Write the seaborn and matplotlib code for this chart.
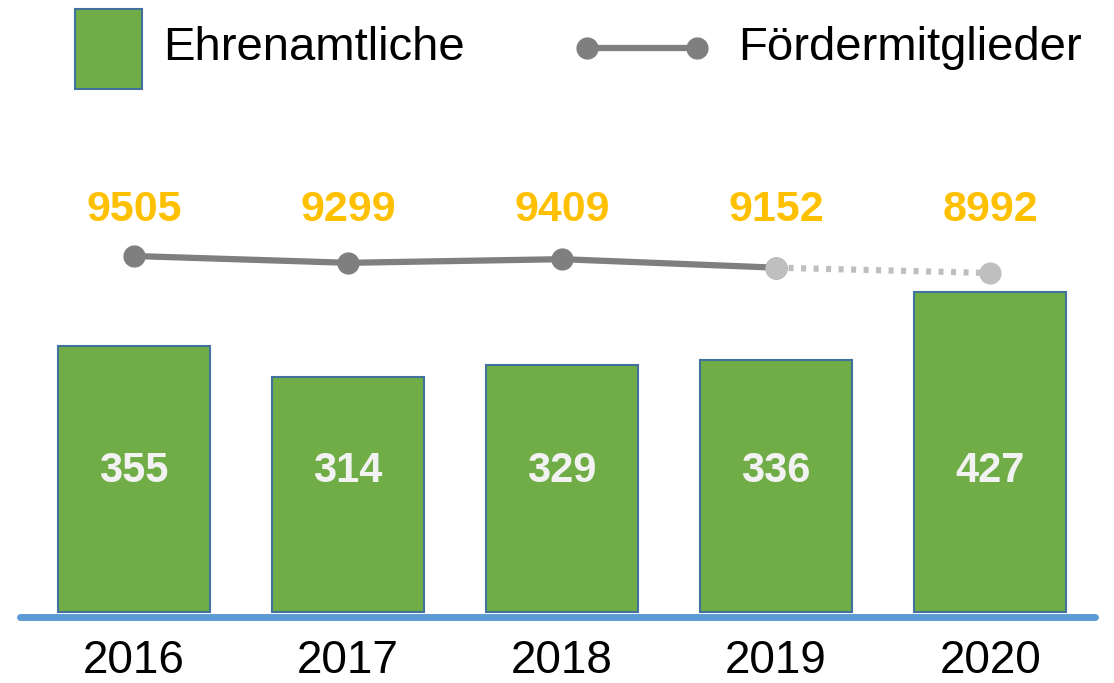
import matplotlib
matplotlib.use("Agg")
import matplotlib.pyplot as plt
import matplotlib.transforms as mtransforms
from matplotlib.patches import Rectangle
from matplotlib.lines import Line2D
import numpy as np
import pandas as pd
import seaborn as sns

years = ["2016", "2017", "2018", "2019", "2020"]
ehrenamtliche = [355, 314, 329, 336, 427]
foerdermitglieder = [9505, 9299, 9409, 9152, 8992]

GREEN = "#70ad47"
EDGE = "#41719c"
GOLD = "#ffc000"
DARKGRAY = "#7f7f7f"
LIGHTGRAY = "#bfbfbf"
BLUE = "#5b9bd5"

sns.set_theme(style="white")
plt.rcParams["font.family"] = ["Liberation Sans", "DejaVu Sans"]

W, H = 1114, 683
fig = plt.figure(figsize=(W / 100, H / 100), dpi=100)
ax_left, ax_right, ax_top, ax_bot = 20, 1095, 100, 625
ax = fig.add_axes([ax_left / W, (H - ax_bot) / H, (ax_right - ax_left) / W, (ax_bot - ax_top) / H])

df = pd.DataFrame({"Jahr": years, "Ehrenamtliche": ehrenamtliche, "Foerder": foerdermitglieder})
df["pos"] = np.arange(len(years))

sns.barplot(data=df, x="Jahr", y="Ehrenamtliche", ax=ax, color=GREEN, width=0.71,
            edgecolor=EDGE, linewidth=1.5, saturation=1, zorder=3)
ax.set_xlim(-0.533, 4.49)
ax.set_ylim(-17.3, 682.7)
for s in ax.spines.values():
    s.set_visible(False)
ax.set_yticks([])
ax.set_xlabel("")
ax.set_ylabel("")
ax.tick_params(axis="x", length=0, pad=10, labelsize=33, labelcolor="black")
ax.axhline(-6, color=BLUE, lw=5, zorder=2, clip_on=False)

trans_b = mtransforms.blended_transform_factory(ax.transData, ax.transAxes)
for i, v in enumerate(ehrenamtliche):
    ax.text(i, 0.293, str(v), transform=trans_b, ha="center", va="center",
            fontsize=30, fontweight="bold", color="#f2f2f2", zorder=5)

ax2 = ax.twinx()
ax2.set_ylim(-1643, 14218)
ax2.set_xlim(ax.get_xlim())
solid = df.iloc[:4]
dotted = df.iloc[3:]
sns.lineplot(data=solid, x="pos", y="Foerder", ax=ax2, color=DARKGRAY, lw=4.5,
             marker="o", markersize=16, markeredgewidth=0, zorder=4)
sns.lineplot(data=dotted, x="pos", y="Foerder", ax=ax2, color=LIGHTGRAY, lw=4.5,
             linestyle=(0, (0.8, 1.2)), marker="o", markersize=16, markeredgewidth=0, zorder=4)
for s in ax2.spines.values():
    s.set_visible(False)
ax2.set_yticks([])
ax2.set_ylabel("")
ax2.set_xlabel("")
trans_l = mtransforms.blended_transform_factory(ax2.transData, ax2.transAxes)
for i, v in enumerate(foerdermitglieder):
    ax2.text(i, 0.790, str(v), transform=trans_l, ha="center", va="center",
             fontsize=31, fontweight="bold", color=GOLD, zorder=5)

# legend
fig.patches.append(Rectangle((75 / W, 1 - 89 / H), 67 / W, 80 / H, transform=fig.transFigure,
                             facecolor=GREEN, edgecolor=EDGE, linewidth=1.5))
fig.text(163 / W, 1 - 48 / H, "Ehrenamtliche", ha="left", va="center", fontsize=34, color="black")
fig.lines.append(Line2D([587 / W, 697 / W], [1 - 48 / H, 1 - 48 / H], transform=fig.transFigure,
                        color=DARKGRAY, lw=4.5, marker="o", markersize=16, markeredgewidth=0))
fig.text(738 / W, 1 - 48 / H, "Fördermitglieder", ha="left", va="center", fontsize=34, color="black")

fig.savefig("out.png", dpi=100)
